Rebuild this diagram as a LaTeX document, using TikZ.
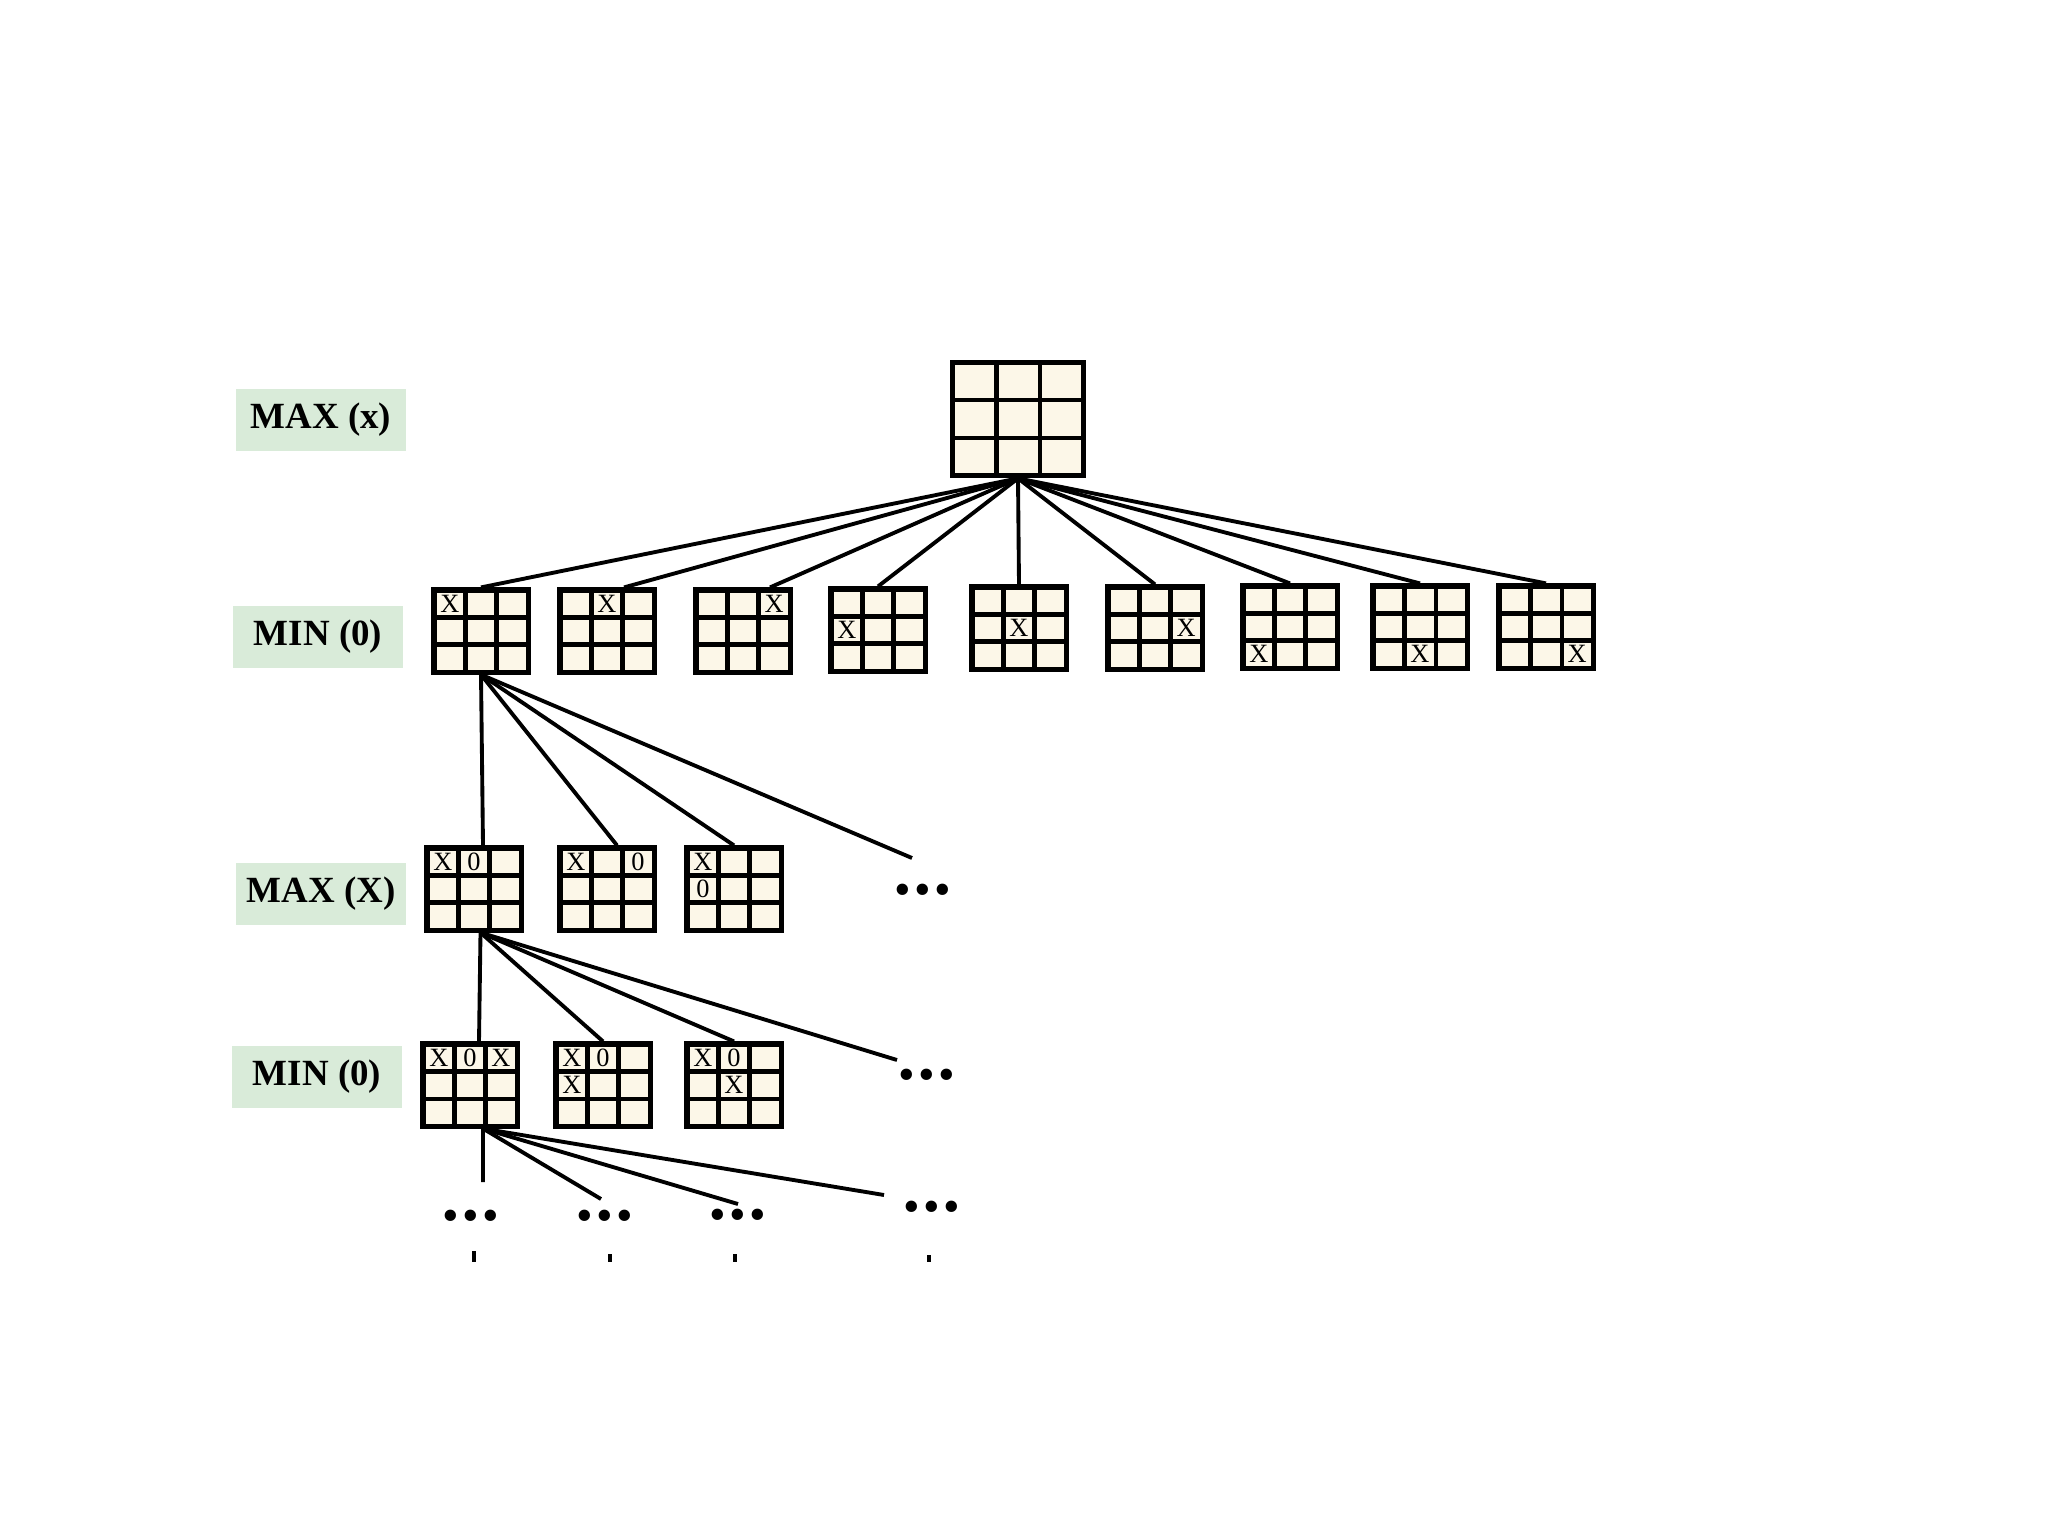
\documentclass[tikz,border=0pt]{standalone}
\usepackage{fontspec}
\setmainfont{Liberation Serif}
\usetikzlibrary{matrix}
\definecolor{board_cream}{RGB}{252, 247, 232}
\definecolor{level_green}{RGB}{217, 235, 217}
\tikzstyle{cell}=[rectangle,draw=black,fill=board_cream,line width=1.15pt,
  anchor=center,inner sep=0pt,minimum width=0.31cm,minimum height=0.27cm,
  font=\fontsize{7.5}{7.5}\selectfont]
\tikzstyle{board}=[matrix of nodes,nodes in empty cells,draw=black,
  line width=0.6pt,inner sep=0pt,column sep=-1.15pt,row sep=-1.15pt,nodes={cell}]
\tikzstyle{bigboard}=[board,nodes={minimum width=0.43cm,minimum height=0.375cm}]
\tikzstyle{level}=[rectangle,fill=level_green,inner sep=0pt,
  minimum width=1.7cm,minimum height=0.62cm,font=\fontsize{10.5}{10.5}\selectfont\bfseries]
\tikzstyle{dots}=[inner sep=0pt,font=\fontsize{13.5}{13.5}\selectfont]
\newcommand{\moredots}{•\kern0.9pt•\kern0.9pt•}
\tikzstyle{none}=[]

\begin{document}
\begin{tikzpicture}[x=0.01cm,y=-0.01cm,line width=1.1pt]
		\useasboundingbox (0, 0) rectangle (2048, 1536);
		\node [style=level] (0) at (321, 420) {MAX (x)};
		\node [style=level] (1) at (318, 637) {MIN (0)};
		\node [style=level] (2) at (321, 894) {MAX (X)};
		\node [style=level] (3) at (317, 1077) {MIN (0)};
		\matrix [style=bigboard] (4) at (1018, 419) {&&\\&&\\&&\\};
		\matrix [style=board] (5) at (481, 631) {X&&\\&&\\&&\\};
		\matrix [style=board] (6) at (607, 631) {&X&\\&&\\&&\\};
		\matrix [style=board] (7) at (743, 631) {&&X\\&&\\&&\\};
		\matrix [style=board] (8) at (878, 630) {&&\\X&&\\&&\\};
		\matrix [style=board] (9) at (1019, 628) {&&\\&X&\\&&\\};
		\matrix [style=board] (10) at (1155, 628) {&&\\&&X\\&&\\};
		\matrix [style=board] (11) at (1290, 627) {&&\\&&\\X&&\\};
		\matrix [style=board] (12) at (1420, 627) {&&\\&&\\&X&\\};
		\matrix [style=board] (13) at (1546, 627) {&&\\&&\\&&X\\};
		\matrix [style=board] (14) at (474, 889) {X&0&\\&&\\&&\\};
		\matrix [style=board] (15) at (607, 889) {X&&0\\&&\\&&\\};
		\matrix [style=board] (16) at (734, 889) {X&&\\0&&\\&&\\};
		\matrix [style=board] (17) at (470, 1085) {X&0&X\\&&\\&&\\};
		\matrix [style=board] (18) at (603, 1085) {X&0&\\X&&\\&&\\};
		\matrix [style=board] (19) at (734, 1085) {X&0&\\&X&\\&&\\};
		\node [style=dots] (20) at (923, 895) {\moredots};
		\node [style=dots] (21) at (927, 1080) {\moredots};
		\node [style=dots] (22) at (471, 1221) {\moredots};
		\node [style=dots] (23) at (605, 1221) {\moredots};
		\node [style=dots] (24) at (738, 1220) {\moredots};
		\node [style=dots] (25) at (932, 1212) {\moredots};
		\coordinate (26) at (912, 858);
		\coordinate (27) at (897, 1060);
		\coordinate (28) at (483, 1182);
		\coordinate (29) at (601, 1199);
		\coordinate (30) at (738, 1204);
		\coordinate (31) at (884, 1195);
		\coordinate (32) at (474, 1251);
		\coordinate (33) at (474, 1262);
		\coordinate (34) at (610, 1254);
		\coordinate (35) at (610, 1262);
		\coordinate (36) at (735, 1254);
		\coordinate (37) at (735, 1262);
		\coordinate (38) at (929, 1255);
		\coordinate (39) at (929, 1262);
		\draw (4.south) to (5.north);
		\draw (4.south) to ([xshift=0.17cm]6.north);
		\draw (4.south) to ([xshift=0.27cm]7.north);
		\draw (4.south) to (8.north);
		\draw (4.south) to (9.north);
		\draw (4.south) to (10.north);
		\draw (4.south) to (11.north);
		\draw (4.south) to (12.north);
		\draw (4.south) to (13.north);
		\draw (5.south) to ([xshift=0.09cm]14.north);
		\draw (5.south) to ([xshift=0.1cm]15.north);
		\draw (5.south) to (16.north);
		\draw (5.south) to (26);
		\draw ([xshift=0.065cm]14.south) to ([xshift=0.09cm]17.north);
		\draw ([xshift=0.065cm]14.south) to (18.north);
		\draw ([xshift=0.065cm]14.south) to (19.north);
		\draw ([xshift=0.065cm]14.south) to (27);
		\draw ([xshift=0.13cm]17.south) to (28);
		\draw ([xshift=0.13cm]17.south) to (29);
		\draw ([xshift=0.13cm]17.south) to (30);
		\draw ([xshift=0.13cm]17.south) to (31);
		\draw (32) to (33);
		\draw (34) to (35);
		\draw (36) to (37);
		\draw (38) to (39);
\end{tikzpicture}
\end{document}
